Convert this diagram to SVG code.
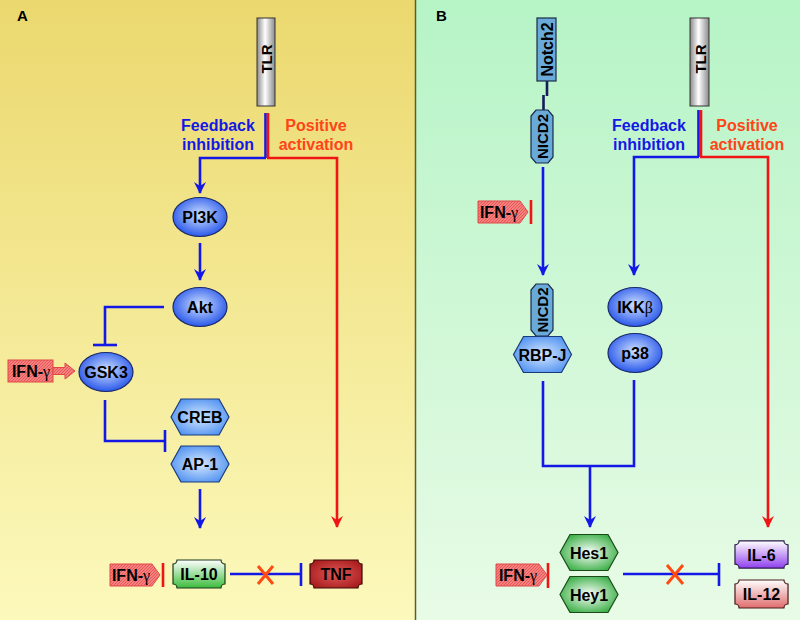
<svg xmlns="http://www.w3.org/2000/svg" width="800" height="620" viewBox="0 0 800 620">
<style>
text{font-family:"Liberation Sans",Arial,sans-serif;font-weight:bold;fill:#000}
.lbl{font-size:16px;text-anchor:middle}
.ifn{font-size:16px;text-anchor:middle}
.sym{font-family:"Liberation Serif","DejaVu Serif",serif;font-weight:normal}
.side{font-size:16px;text-anchor:middle}
.blue{stroke:#1418e6;stroke-width:2.6;fill:none}
.red{stroke:#f01414;stroke-width:2.6;fill:none}
.navy{stroke:#141c5a;stroke-width:2.6;fill:none}
.ell{fill:url(#gEll);stroke:#1a2a6a;stroke-width:1.2}
.hexb{fill:url(#gHexB);stroke:#1a3a7a;stroke-width:1.2}
.hexg{fill:url(#gHexG);stroke:#1a4a1a;stroke-width:1.2}
.ifnsh{fill:url(#hatch);stroke:#e04848;stroke-width:1}
.notch{fill:#6aaad8;stroke:#1a2a4a;stroke-width:1.2}
.x{stroke:#ff4a14;stroke-width:3;fill:none}
</style>
<defs>
<linearGradient id="bgA" x1="0" y1="0" x2="0" y2="1"><stop offset="0" stop-color="#ebd86e"/><stop offset="1" stop-color="#fcf9bc"/></linearGradient>
<linearGradient id="bgB" x1="0" y1="0" x2="0" y2="1"><stop offset="0" stop-color="#b6f4c6"/><stop offset="1" stop-color="#e8fbe6"/></linearGradient>
<linearGradient id="gTLR" x1="0" y1="0" x2="1" y2="0"><stop offset="0" stop-color="#8a8a8a"/><stop offset="0.45" stop-color="#ffffff"/><stop offset="1" stop-color="#8a8a8a"/></linearGradient>
<radialGradient id="gEll" cx="0.5" cy="0.45" r="0.55"><stop offset="0" stop-color="#cfe2ff"/><stop offset="1" stop-color="#2a58ea"/></radialGradient>
<radialGradient id="gHexB" cx="0.5" cy="0.5" r="0.6"><stop offset="0" stop-color="#d6e8ff"/><stop offset="1" stop-color="#4a8ef0"/></radialGradient>
<radialGradient id="gHexG" cx="0.5" cy="0.5" r="0.6"><stop offset="0" stop-color="#ffffff"/><stop offset="1" stop-color="#2eaa3a"/></radialGradient>
<linearGradient id="gIL10" x1="0" y1="0" x2="0" y2="1"><stop offset="0" stop-color="#ffffff"/><stop offset="1" stop-color="#3cbc3c"/></linearGradient>
<radialGradient id="gTNF" cx="0.5" cy="0.5" r="0.6"><stop offset="0" stop-color="#e05858"/><stop offset="1" stop-color="#a81c1c"/></radialGradient>
<linearGradient id="gIL6" x1="0" y1="0" x2="0" y2="1"><stop offset="0" stop-color="#ffffff"/><stop offset="1" stop-color="#9040ee"/></linearGradient>
<linearGradient id="gIL12" x1="0" y1="0" x2="0" y2="1"><stop offset="0" stop-color="#ffffff"/><stop offset="1" stop-color="#e06c6c"/></linearGradient>
<pattern id="hatch" width="3" height="3" patternUnits="userSpaceOnUse"><rect width="3" height="3" fill="#f48080"/><path d="M0,3 L3,0" stroke="#e85252" stroke-width="0.9"/></pattern>
<path id="plaque" d="M-22,-14 H22 A4 4 0 0 0 26,-10 V10 A4 4 0 0 0 22,14 H-22 A4 4 0 0 0 -26,10 V-10 A4 4 0 0 0 -22,-14 Z"/>
<polygon id="hex" points="-29,0 -19,-18 19,-18 29,0 19,18 -19,18"/>
<marker id="ab" viewBox="0 0 12 12" refX="11" refY="6" markerWidth="12" markerHeight="12" markerUnits="userSpaceOnUse" orient="auto"><path d="M0,0 L12,6 L0,12 L4,6 Z" fill="#1418e6"/></marker>
<marker id="ar" viewBox="0 0 12 12" refX="11" refY="6" markerWidth="12" markerHeight="12" markerUnits="userSpaceOnUse" orient="auto"><path d="M0,0 L12,6 L0,12 L4,6 Z" fill="#f01414"/></marker>
</defs>

<rect x="0" y="0" width="416" height="620" fill="url(#bgA)"/>
<rect x="416" y="0" width="384" height="620" fill="url(#bgB)"/>
<line x1="415.5" y1="0" x2="415.5" y2="620" stroke="#5e5c2a" stroke-width="1.5"/>

<text x="17" y="21" style="font-size:15px">A</text>
<text x="436" y="21" style="font-size:15px">B</text>

<g id="connectors">
<line class="blue" x1="265.5" y1="113" x2="265.5" y2="158"/>
<line class="red" x1="268" y1="113" x2="268" y2="158"/>
<polyline class="blue" points="266,158 200,158 200,193" marker-end="url(#ab)"/>
<polyline class="red" points="267,158 337,158 337,527" marker-end="url(#ar)"/>
<line class="blue" x1="200" y1="243" x2="200" y2="280" marker-end="url(#ab)"/>
<polyline class="blue" points="164,307 105,307 105,345"/>
<line class="blue" x1="93" y1="345" x2="117" y2="345"/>
<polyline class="blue" points="105,400 105,441 165,441"/>
<line class="blue" x1="165" y1="430" x2="165" y2="452"/>
<line class="blue" x1="200" y1="489" x2="200" y2="528" marker-end="url(#ab)"/>
<line class="red" x1="163" y1="563" x2="163" y2="587"/>
<line class="blue" x1="230" y1="574" x2="301" y2="574"/>
<line class="blue" x1="301" y1="563" x2="301" y2="586"/>
<path class="x" d="M258,566 L273,584 M273,566 L258,584"/>
<line class="navy" x1="547" y1="81" x2="547" y2="96"/>
<line class="navy" x1="543.5" y1="95" x2="543.5" y2="111"/>
<line class="blue" x1="543" y1="167" x2="543" y2="275" marker-end="url(#ab)"/>
<line class="red" x1="531" y1="200" x2="531" y2="224"/>
<line class="blue" x1="698.5" y1="110" x2="698.5" y2="157"/>
<line class="red" x1="701" y1="110" x2="701" y2="157"/>
<polyline class="blue" points="699,157 634,157 634,275" marker-end="url(#ab)"/>
<polyline class="red" points="700,157 768,157 768,527" marker-end="url(#ar)"/>
<polyline class="blue" points="543,381 543,466 634,466 634,380"/>
<line class="blue" x1="590" y1="466" x2="590" y2="527" marker-end="url(#ab)"/>
<line class="red" x1="548" y1="563" x2="548" y2="588"/>
<line class="blue" x1="623" y1="574" x2="719" y2="574"/>
<line class="blue" x1="719" y1="563" x2="719" y2="586"/>
<path class="x" d="M667,565 L683,584 M683,565 L667,584"/>
</g>

<g id="labelsA">
<text class="side" style="fill:#1418e6" x="218" y="131">Feedback</text>
<text class="side" style="fill:#1418e6" x="218" y="150">inhibition</text>
<text class="side" style="fill:#ff4418" x="316" y="131">Positive</text>
<text class="side" style="fill:#ff4418" x="316" y="150">activation</text>
</g>
<g id="labelsB">
<text class="side" style="fill:#1418e6" x="649" y="131">Feedback</text>
<text class="side" style="fill:#1418e6" x="649" y="150">inhibition</text>
<text class="side" style="fill:#ff4418" x="747" y="131">Positive</text>
<text class="side" style="fill:#ff4418" x="747" y="150">activation</text>
</g>

<g id="TLR_A">
<rect x="257" y="18" width="18" height="88" fill="url(#gTLR)" stroke="#333" stroke-width="1"/>
<text class="lbl" style="font-size:15px" transform="translate(272,59) rotate(-90)">TLR</text>
</g>
<g id="PI3K"><ellipse class="ell" cx="200" cy="217" rx="27" ry="19.5"/><text class="lbl" x="200" y="223">PI3K</text></g>
<g id="Akt"><ellipse class="ell" cx="200" cy="307" rx="27" ry="19.5"/><text class="lbl" x="200" y="313">Akt</text></g>
<g id="GSK3"><ellipse class="ell" cx="106" cy="372" rx="27" ry="19.5"/><text class="lbl" x="106" y="378">GSK3</text></g>
<g id="IFN_A1">
<rect class="ifnsh" x="8" y="360" width="45" height="22"/>
<polygon class="ifnsh" points="53,367.5 65,367.5 65,363 75,371 65,379 65,374.5 53,374.5"/>
<text class="ifn" x="31" y="377">IFN-<tspan class="sym">γ</tspan></text>
</g>
<g id="CREB"><use href="#hex" class="hexb" transform="translate(200,417)"/><text class="lbl" x="200" y="423">CREB</text></g>
<g id="AP1"><use href="#hex" class="hexb" transform="translate(200,464)"/><text class="lbl" x="200" y="470">AP-1</text></g>
<g id="IFN_A2">
<polygon class="ifnsh" points="110,564 152,564 160,575 152,586 110,586"/>
<text class="ifn" x="131" y="580.5">IFN-<tspan class="sym">γ</tspan></text>
</g>
<g id="IL10"><use href="#plaque" fill="url(#gIL10)" stroke="#1a3a1a" stroke-width="1.2" transform="translate(199,574)"/><text class="lbl" x="199" y="580">IL-10</text></g>
<g id="TNF"><use href="#plaque" fill="url(#gTNF)" stroke="#3a0a0a" stroke-width="1.2" transform="translate(336,574)"/><text class="lbl" x="336" y="580">TNF</text></g>

<g id="Notch2">
<rect class="notch" x="537" y="18" width="19" height="63"/>
<text class="lbl" transform="translate(553,49.5) rotate(-90)">Notch2</text>
</g>
<g id="NICD2_top">
<polygon class="notch" points="536,110 548,110 553,116 553,157 548,163 536,163 531,157 531,116"/>
<text class="lbl" style="font-size:15px" transform="translate(548,136.5) rotate(-90)">NICD2</text>
</g>
<g id="IFN_B1">
<polygon class="ifnsh" points="478,201 520,201 528,212 520,223 478,223"/>
<text class="ifn" x="499" y="217.5">IFN-<tspan class="sym">γ</tspan></text>
</g>
<g id="TLR_B">
<rect x="690" y="18" width="19" height="88" fill="url(#gTLR)" stroke="#333" stroke-width="1"/>
<text class="lbl" style="font-size:15px" transform="translate(705.5,59) rotate(-90)">TLR</text>
</g>
<g id="NICD2_bottom">
<polygon class="notch" points="536,284 548,284 553,290 553,330 548,336 536,336 531,330 531,290"/>
<text class="lbl" style="font-size:15px" transform="translate(548,310) rotate(-90)">NICD2</text>
</g>
<g id="RBPJ"><use href="#hex" class="hexb" transform="translate(542.5,354.5)"/><text class="lbl" x="542.5" y="360.5">RBP-J</text></g>
<g id="IKKb"><ellipse class="ell" cx="635" cy="307" rx="27" ry="19.5"/><text class="lbl" x="635" y="313">IKK<tspan class="sym">β</tspan></text></g>
<g id="p38"><ellipse class="ell" cx="635" cy="353" rx="27" ry="19.5"/><text class="lbl" x="635" y="359">p38</text></g>
<g id="Hes1"><use href="#hex" class="hexg" transform="translate(589,552.5)"/><text class="lbl" x="589" y="558.5">Hes1</text></g>
<g id="Hey1"><use href="#hex" class="hexg" transform="translate(589,594.5)"/><text class="lbl" x="589" y="600.5">Hey1</text></g>
<g id="IFN_B2">
<polygon class="ifnsh" points="496,564 539,564 547,575 539,586 496,586"/>
<text class="ifn" x="518" y="580.5">IFN-<tspan class="sym">γ</tspan></text>
</g>
<g id="IL6"><use href="#plaque" fill="url(#gIL6)" stroke="#2a1a4a" stroke-width="1.2" transform="translate(761.5,554.5) scale(1.02,0.97)"/><text class="lbl" x="761.5" y="560.5">IL-6</text></g>
<g id="IL12"><use href="#plaque" fill="url(#gIL12)" stroke="#4a1a1a" stroke-width="1.2" transform="translate(761.5,594) scale(1.02,1)"/><text class="lbl" x="761.5" y="600">IL-12</text></g>
</svg>
